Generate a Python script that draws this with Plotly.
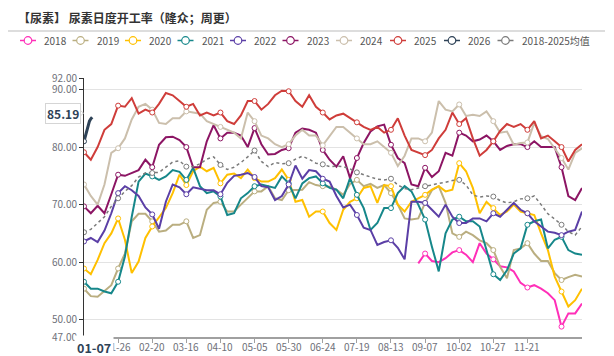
import plotly.graph_objects as go
import pandas as pd

# ---------------- data ----------------
DATES = pd.date_range("2024-01-01", "2024-12-31").strftime("%m-%d").tolist()
SAMPLE_DAYS = list(range(0, 366, 5))          # day index into DATES
DAYS_2018 = list(range(245, 366, 5))
DAYS_2026 = [0, 1, 2, 3, 4, 5, 6]
TICK_DAYS = list(range(0, 326, 25))
TICK_LABELS = [""] + [DATES[d] for d in TICK_DAYS[1:]]   # 01-01 hidden under pointer label
Y_TICKS = [47, 50, 60, 70, 80, 90, 92]
Y_TICK_LABELS = ["47.00", "50.00", "60.00", "70.00", "80.00", "90.00", "92.00"]

S2018 = [59.8, 61.5, 60.2, 60.0, 60.7, 61.7, 62.1, 61.3, 60.0, 63.3, 61.5, 60.5, 59.3,
         59.1, 58.4, 56.4, 55.6, 56.0, 55.4, 54.6, 53.4, 48.8, 51.1, 51.1, 52.8]
S2019 = [55.4, 54.1, 54.0, 55.0, 56.0, 58.9, 61.5, 67.1, 68.4, 68.4, 67.1, 65.3, 65.5, 66.5, 66.5,
         67.1, 64.2, 64.7, 69.1, 70.3, 70.5, 68.8, 68.8, 70.0, 71.1,
         72.3, 72.3, 73.2, 71.1, 70.8, 72.5, 72.6, 72.6, 73.9, 73.4, 73.2, 73.1, 72.6, 71.7, 73.6,
         74.3, 73.2, 73.6, 72.9, 73.4, 72.0, 70.0, 67.6,
         67.4, 67.6, 70.3, 72.5, 73.2, 70.3, 65.0, 64.4, 65.3, 64.7, 63.8, 63.3, 62.1, 59.2, 57.2,
         62.1, 62.4, 63.3, 61.5, 60.2, 60.2, 58.1, 56.9, 57.4, 57.8, 57.5]
S2020 = [58.9, 57.9, 60.4, 63.3, 65.0, 67.6, 63.9, 58.1, 60.1, 64.2, 66.2, 67.9, 69.4, 72.0, 75.2,
         73.4, 75.8, 76.6, 75.8, 76.4, 73.7, 75.2, 75.4, 74.6, 76.1,
         74.6, 74.0, 74.0, 74.6, 76.1, 74.3, 70.5, 70.8, 67.9, 68.8, 68.8, 66.8, 65.6, 69.1, 70.5,
         71.1, 72.9, 73.2, 70.3, 73.4, 73.2, 70.0, 68.8,
         70.5, 71.1, 71.7, 72.6, 73.2, 72.3, 72.6, 77.2, 75.8, 72.9, 68.5, 70.5, 69.4, 68.2, 68.8,
         70.0, 68.8, 68.5, 68.2, 65.0, 62.1, 57.5, 54.9, 52.3, 53.4, 55.4]
S2021 = [56.6, 55.4, 55.4, 54.9, 54.6, 56.6, 61.0, 67.9, 74.0, 75.4, 74.9, 74.3, 74.9, 76.0, 75.7,
         74.3, 76.4, 73.2, 72.0, 72.3, 71.4, 68.2, 68.5, 71.1, 72.0,
         73.2, 73.5, 73.2, 72.9, 74.9, 73.7, 71.1, 73.7, 74.6, 74.9, 73.7, 72.9, 72.6, 71.1, 74.6,
         71.7, 69.4, 65.6, 66.8, 69.4, 69.4, 72.0, 73.2,
         72.3, 70.0, 67.4, 62.7, 58.4, 65.0, 67.4, 67.9, 67.1, 67.1, 66.2, 62.1, 57.9, 56.9, 58.6,
         61.5, 62.4, 66.5, 67.1, 67.4, 62.4, 63.9, 64.4, 62.1, 61.5, 61.3]
S2022 = [63.6, 64.2, 63.5, 65.5, 68.5, 72.0, 73.2, 72.5, 71.5, 69.5, 68.3, 65.8, 70.5, 73.5, 73.0,
         71.8, 73.0, 72.7, 72.5, 72.5, 71.8, 73.8, 75.0, 75.2, 75.5,
         74.8, 73.2, 73.0, 70.8, 71.5, 73.5, 76.8, 74.5, 76.0, 75.8, 74.5, 74.0, 71.5, 69.5, 70.0,
         68.2, 66.0, 65.6, 63.0, 63.5, 63.8, 62.5, 60.5,
         70.5, 70.5, 70.3, 69.1, 67.9, 70.0, 67.9, 66.8, 66.8, 67.6, 67.6, 67.1, 68.5, 67.9, 69.1,
         70.3, 69.1, 68.5, 67.1, 66.2, 65.3, 65.1, 64.7, 65.3, 65.6, 68.8]
S2023 = [69.7, 68.5, 69.8, 68.5, 71.8, 75.2, 75.0, 75.5, 76.0, 77.8, 76.5, 80.4, 81.7, 81.8, 81.2,
         80.0, 76.5, 76.5, 81.0, 83.8, 81.5, 82.5, 82.5, 82.0, 80.0,
         83.3, 80.5, 78.7, 78.8, 79.5, 79.8, 82.5, 83.2, 83.0, 82.5, 79.5, 77.8, 76.6, 78.4, 74.6,
         78.1, 80.7, 82.7, 83.6, 83.9, 80.4, 78.1, 77.2,
         73.5, 73.2, 76.4, 74.8, 75.8, 79.0, 78.5, 82.5, 82.0, 81.0, 81.3, 82.0, 81.0, 79.5, 80.2,
         80.5, 80.5, 80.0, 81.0, 80.0, 80.0, 80.0, 76.5, 71.5, 70.8, 72.9]
S2024 = [73.5, 71.5, 70.0, 73.5, 79.0, 79.8, 81.5, 84.8, 87.0, 87.5, 86.5, 84.2, 84.0, 85.0, 85.0,
         86.2, 86.0, 85.8, 84.5, 84.0, 83.5, 83.0, 82.5, 81.5, 86.0,
         84.5, 82.0, 81.5, 80.5, 80.0, 80.5, 82.0, 83.0, 82.0, 82.0, 80.3, 82.0, 83.5, 83.5, 82.5,
         81.5, 80.5, 80.5, 81.0, 80.0, 79.0, 76.7, 78.5,
         81.5, 81.5, 81.0, 82.5, 88.0, 86.5, 86.2, 87.4, 85.4, 85.6, 85.4, 86.2, 84.5, 82.5, 82.7,
         80.4, 80.7, 80.8, 84.2, 81.9, 81.4, 79.8, 78.1, 76.1, 79.0, 79.8]
S2025 = [79.1, 77.8, 80.0, 83.0, 84.0, 87.2, 87.0, 88.5, 85.8, 86.5, 86.0, 87.5, 89.4, 89.0, 88.0,
         87.0, 87.5, 85.5, 86.0, 85.5, 86.0, 84.5, 84.0, 85.5, 88.0,
         88.0, 86.5, 87.5, 89.0, 89.8, 89.7, 88.0, 87.0, 89.0, 87.0, 86.0, 84.8, 85.5, 85.8, 85.0,
         84.3, 83.5, 83.0, 83.5, 82.5, 83.0, 85.0, 82.0,
         79.5, 79.0, 78.6, 79.5, 81.5, 83.0, 86.0, 84.0, 85.0, 81.5, 78.5, 79.5, 81.0, 82.8, 84.0,
         83.5, 84.0, 83.0, 84.5, 81.5, 82.0, 81.0, 80.0, 77.5, 79.5, 80.5]
S2026 = [81.0, 82.0, 83.0, 83.9, 84.5, 84.9, 85.19]
SAVG = [65.2, 65.7, 66.8, 67.9, 69.7, 71.1, 72.3, 73.3, 74.8, 75.5, 75.5, 75.6, 76.5, 77.4, 77.6,
        76.6, 76.6, 77.1, 77.9, 78.3, 76.9, 76.1, 76.5, 77.3, 78.3,
        79.4, 77.5, 76.6, 77.3, 77.1, 77.2, 77.9, 78.4, 77.9, 77.2, 77.0, 76.6, 76.7, 76.6, 76.2,
        75.6, 75.2, 74.9, 74.4, 74.3, 74.5, 73.4, 72.8,
        72.6, 72.9, 73.2, 73.4, 73.7, 73.9, 74.2, 74.3, 73.4, 71.7, 71.3, 71.5, 71.4, 70.7, 70.3,
        70.5, 71.0, 71.1, 71.5, 70.0, 68.4, 67.5, 66.5, 65.3, 64.7, 66.2]

SERIES = [
    ("2018", DAYS_2018, S2018, "#FF2FB8", 2, "solid"),
    ("2019", SAMPLE_DAYS, S2019, "#BAAE80", 2, "solid"),
    ("2020", SAMPLE_DAYS, S2020, "#FFC000", 2, "solid"),
    ("2021", SAMPLE_DAYS, S2021, "#16878A", 2, "solid"),
    ("2022", SAMPLE_DAYS, S2022, "#5B3FA6", 2, "solid"),
    ("2023", SAMPLE_DAYS, S2023, "#8C1564", 2, "solid"),
    ("2024", SAMPLE_DAYS, S2024, "#CBBFAC", 2, "solid"),
    ("2025", SAMPLE_DAYS, S2025, "#CF3D3A", 2, "solid"),
    ("2026", DAYS_2026, S2026, "#2E4257", 3, "solid"),
    ("2018-2025均值", SAMPLE_DAYS, SAVG, "#7A7A7A", 1.5, "dot"),
]

FONT = "Noto Sans CJK SC"
W, H = 614, 356
ML, MR, MT, MB = 84, 32, 78, 19
PW, PH = W - ML - MR, H - MT - MB


def px(x):
    return (x - ML) / PW


def py(y):
    return (H - MB - y) / PH


fig = go.Figure()
for name, days, vals, color, width, dash in SERIES:
    fig.add_trace(go.Scatter(x=days, y=vals, mode="lines", name=name, connectgaps=True,
                             line=dict(color=color, width=width, dash=dash),
                             hoverinfo="skip", showlegend=False))
    mx = [d for d, v in zip(days, vals) if d % 25 == 0]
    my = [v for d, v in zip(days, vals) if d % 25 == 0]
    fig.add_trace(go.Scatter(x=mx, y=my, mode="markers", hoverinfo="skip", showlegend=False,
                             marker=dict(symbol="circle", size=5, color="white",
                                         line=dict(color=color, width=1))))

shapes = []
annotations = []
# title + separator
annotations.append(dict(x=px(16), y=py(17), xref="paper", yref="paper", xanchor="left",
                        yanchor="middle", showarrow=False,
                        text="【尿素】 尿素日度开工率（隆众；周更）",
                        font=dict(family=FONT, size=12, color="#333333", weight=700)))
shapes.append(dict(type="line", xref="paper", yref="paper", x0=px(8), x1=px(605),
                   y0=py(31), y1=py(31), line=dict(color="#BBBBBB", width=1)))

# legend (manual)
LEG_X = [28, 80.5, 133, 185.5, 238, 290.5, 344, 398, 452, 505.5]
LEG_Y = 40.5
for (name, days, vals, color, width, dash), cx in zip(SERIES, LEG_X):
    shapes.append(dict(type="line", xref="paper", yref="paper", x0=px(cx - 8), x1=px(cx + 8),
                       y0=py(LEG_Y), y1=py(LEG_Y), line=dict(color=color, width=1.5)))
    shapes.append(dict(type="circle", xref="paper", yref="paper", x0=px(cx - 3.8), x1=px(cx + 3.8),
                       y0=py(LEG_Y + 3.8), y1=py(LEG_Y - 3.8), fillcolor="white",
                       line=dict(color=color, width=1.2)))
    annotations.append(dict(x=px(cx + 14), y=py(LEG_Y), xref="paper", yref="paper",
                            xanchor="left", yanchor="middle", showarrow=False, text=name,
                            font=dict(family=FONT, size=10, color="#555555")))

# x tick labels (drawn as annotations so they sit where the reference has them)
for d, lab in zip(TICK_DAYS, TICK_LABELS):
    if lab:
        annotations.append(dict(x=d, y=py(346.5), xref="x", yref="paper", xanchor="center",
                                yanchor="middle", showarrow=False, text=lab,
                                font=dict(family=FONT, size=10, color="#6E7079")))

# axis pointer labels
shapes.append(dict(type="path", xref="paper", yref="paper",
                   path=f"M {px(78.5)},{py(108.8)} L {px(83.5)},{py(113.2)} L {px(78.5)},{py(117.6)} Z",
                   fillcolor="white", line=dict(color="#D5D5D5", width=1)))
annotations.append(dict(x=px(63), y=S2026[-1], xref="paper", yref="y", yshift=4,
                        xanchor="center", yanchor="middle", showarrow=False,
                        text=f"{S2026[-1]:.2f}", bgcolor="white", bordercolor="#D5D5D5",
                        borderwidth=1, borderpad=1,
                        font=dict(family=FONT, size=12, color="#2E4257", weight=700)))
annotations.append(dict(x=px(94), y=py(347), xref="paper", yref="paper",
                        xanchor="center", yanchor="middle", showarrow=False,
                        text=DATES[DAYS_2026[-1]], bgcolor="white", borderpad=2,
                        font=dict(family=FONT, size=12.5, color="#2E4257", weight=700)))

fig.update_layout(
    width=W, height=H, margin=dict(l=ML, r=MR, t=MT, b=MB, autoexpand=False),
    paper_bgcolor="white", plot_bgcolor="white", showlegend=False,
    font=dict(family=FONT, color="#6E7079"),
    shapes=shapes, annotations=annotations,
    xaxis=dict(range=[0, 365], tickmode="array", tickvals=TICK_DAYS, showticklabels=False,
               showgrid=False, zeroline=False, showline=True, linecolor="#A0A0A0", linewidth=2,
               ticks="outside", ticklen=4, tickcolor="#A0A0A0", tickwidth=1, automargin=False),
    yaxis=dict(range=[47, 92], tickmode="array", tickvals=Y_TICKS, ticktext=Y_TICK_LABELS,
               showgrid=True, gridcolor="#E3E3E3", gridwidth=1, zeroline=False,
               showline=True, linecolor="#333333", linewidth=1,
               ticks="outside", ticklen=4, tickcolor="#333333",
               tickfont=dict(family=FONT, size=10, color="#6E7079"), automargin=False),
)

fig.write_html("out.html", config={"displayModeBar": False},
               post_script="document.body.style.margin='0';")
